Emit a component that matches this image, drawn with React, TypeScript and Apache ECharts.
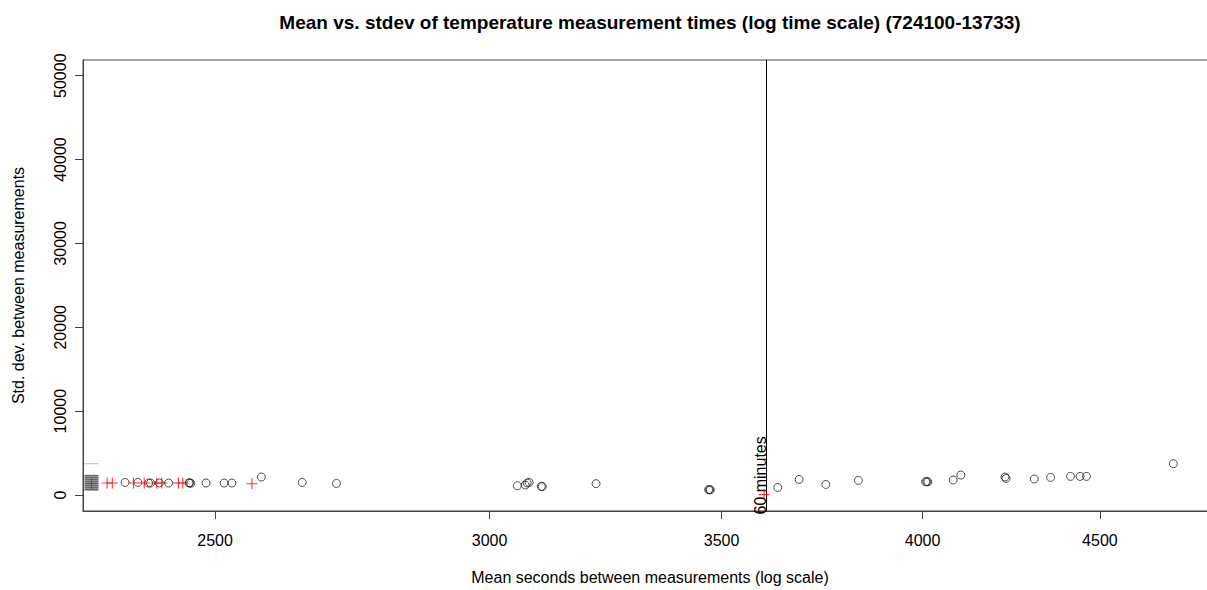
import { useEffect, useRef } from "react";
import * as echarts from "echarts";

const titleText = "Mean vs. stdev of temperature measurement times (log time scale) (724100-13733)";
const xAxisTitle = "Mean seconds between measurements (log scale)";
const yAxisTitle = "Std. dev. between measurements";

const xTickValues = [2500, 3000, 3500, 4000, 4500];
const yTickValues = [0, 10000, 20000, 30000, 40000, 50000];
const xRange = [2290, 4864];
const yRange = [-1907, 51871];

// black open circles
const circleMeans = [
  2355, 2375, 2392, 2395, 2409, 2424, 2457, 2458, 2460, 2485, 2515, 2528, 2578, 2649, 2710,
  3056, 3072, 3076, 3080, 3105, 3107, 3220, 3470, 3472, 3474, 3633, 3685, 3751, 3833,
  4008, 4011, 4014, 4082, 4103, 4225, 4228, 4308, 4355, 4413, 4441, 4460, 4725,
];
const circleStdevs = [
  1500, 1500, 1430, 1430, 1430, 1430, 1430, 1460, 1400, 1430, 1430, 1430, 2145, 1500, 1380,
  1110, 1190, 1430, 1500, 1030, 1000, 1350, 630, 650, 610, 900, 1860, 1260, 1740,
  1580, 1600, 1570, 1790, 2380, 2145, 1980, 1910, 2100, 2220, 2220, 2220, 3730,
];

// red plus markers
const plusMeans = [2303, 2327, 2335, 2368, 2385, 2405, 2413, 2440, 2447, 2562, 3600];
const plusStdevs = [1380, 1430, 1430, 1430, 1430, 1430, 1430, 1430, 1430, 1350, 40];

// clipped marks at the left edge of the plot
const edgeMean = 2303;
const edgeStdevsDark = [632, 870, 1108, 1347, 1585, 1823, 2062, 2300];
const edgeStdevsLight = [3730];

const referenceSeconds = 3600;
const referenceLabel = "60 minutes";

const FONT = "'Liberation Sans', Arial, Helvetica, sans-serif";

export default function App() {
  const ref = useRef<HTMLDivElement>(null);
  useEffect(() => {
    if (!ref.current) return;
    const chart = echarts.init(ref.current, undefined, { renderer: "svg" });
    const L = Math.log;
    const pts = (xs: number[], ys: number[]) => xs.map((x, i) => [L(x), ys[i]]);
    const option: any = {
      animation: false,
      backgroundColor: "#ffffff",
      textStyle: { fontFamily: FONT },
      grid: {
        left: 83,
        top: 60,
        right: 0,
        bottom: 79,
        show: true,
        borderColor: "#444",
        borderWidth: 1,
      },
      graphic: [
        {
          type: "text",
          x: 650,
          y: 22,
          style: {
            text: titleText,
            fontFamily: FONT,
            fontSize: 19,
            fontWeight: "bold",
            fill: "#000",
            align: "center",
            verticalAlign: "middle",
          },
        },
      ],
      xAxis: {
        type: "value",
        min: L(xRange[0]),
        max: L(xRange[1]),
        axisLine: { show: true, onZero: false, lineStyle: { color: "#444", width: 1 } },
        axisTick: {
          show: true,
          length: 8,
          customValues: xTickValues.map(L),
          lineStyle: { color: "#444" },
        },
        axisLabel: {
          customValues: xTickValues.map(L),
          formatter: (v: number) => String(Math.round(Math.exp(v))),
          fontSize: 16,
          color: "#000",
          margin: 21,
          fontFamily: FONT,
        },
        splitLine: { show: false },
        name: xAxisTitle,
        nameLocation: "middle",
        nameGap: 58,
        nameTextStyle: { fontSize: 16, color: "#000", fontFamily: FONT },
      },
      yAxis: {
        type: "value",
        min: yRange[0],
        max: yRange[1],
        axisLine: { show: true, onZero: false, lineStyle: { color: "#444", width: 1 } },
        axisTick: {
          show: true,
          length: 8,
          customValues: yTickValues,
          lineStyle: { color: "#444" },
        },
        axisLabel: {
          customValues: yTickValues,
          formatter: (v: number) => String(v),
          rotate: 90,
          fontSize: 16,
          color: "#000",
          margin: 15,
          fontFamily: FONT,
        },
        splitLine: { show: false },
        name: yAxisTitle,
        nameLocation: "middle",
        nameGap: 57,
        nameRotate: 90,
        nameTextStyle: { fontSize: 16, color: "#000", fontFamily: FONT },
      },
      series: [
        {
          type: "scatter",
          data: pts(edgeStdevsLight.map(() => edgeMean), edgeStdevsLight),
          symbol: "rect",
          symbolSize: [14, 1],
          itemStyle: { color: "#aaa" },
          silent: true,
        },
        {
          type: "scatter",
          data: pts(edgeStdevsDark.map(() => edgeMean), edgeStdevsDark),
          symbol: "rect",
          symbolSize: [14, 1.8],
          itemStyle: { color: "#444" },
          silent: true,
        },
        {
          type: "scatter",
          data: pts(circleMeans, circleStdevs),
          symbol: "circle",
          symbolSize: 8,
          itemStyle: { color: "rgba(0,0,0,0)", borderColor: "#222", borderWidth: 1 },
          silent: true,
          markLine: {
            silent: true,
            symbol: "none",
            data: [{ xAxis: L(referenceSeconds) }],
            lineStyle: { color: "#000", width: 1, type: "solid" },
            label: {
              show: true,
              formatter: referenceLabel,
              position: "insideStartTop",
              fontSize: 16,
              color: "#000",
              fontFamily: FONT,
              distance: [-3.5, -3],
            },
          },
        },
        {
          type: "scatter",
          z: 10,
          data: pts(plusMeans, plusStdevs),
          symbol: "path://M0,4.5H10V5.5H0Z M4.5,0H5.5V10H4.5Z",
          symbolSize: 11,
          itemStyle: { color: "#ff0000" },
          silent: true,
        },
      ],
    };
    chart.setOption(option);
    return () => chart.dispose();
  }, []);
  return (
    <div
      style={{
        position: "fixed",
        left: 0,
        top: 0,
        width: 1207,
        height: 590,
        overflow: "hidden",
        background: "#fff",
      }}
    >
      <div ref={ref} style={{ width: 1217, height: 590 }} />
    </div>
  );
}
